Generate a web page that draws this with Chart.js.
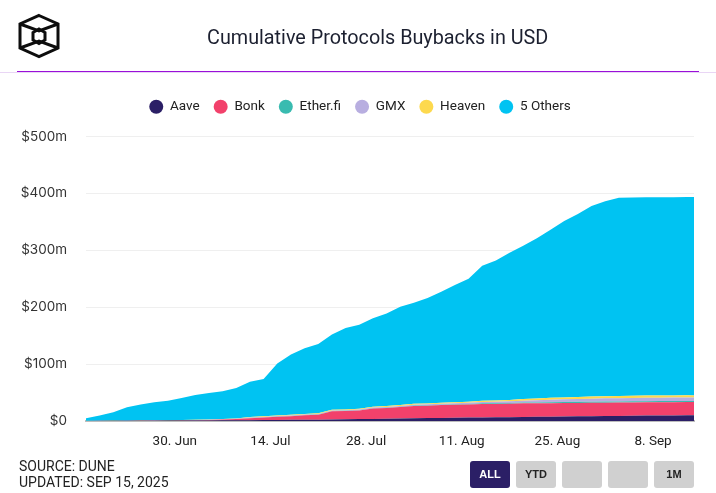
<!DOCTYPE html>
<html><head><meta charset="utf-8">
<script src="https://cdn.jsdelivr.net/npm/chart.js@4"></script>
<style>
html,body{margin:0;padding:0;background:#fff;width:716px;height:493px;overflow:hidden}
#c{position:absolute;left:0;top:0}
.t{position:absolute;left:207px;top:26px;width:341px;text-align:center;font:19.8px Roboto,sans-serif;color:#1c2030;white-space:nowrap}
.l1{position:absolute;left:17px;width:682px;top:71px;height:1px;background:#9a10d8}
.l2{position:absolute;left:0;width:716px;top:72px;height:1px;background:#e9d6f5}
.f{position:absolute;left:19px;top:458px;font:14px/16px Roboto,sans-serif;color:#222;white-space:nowrap}
.b{position:absolute;top:461px;width:40px;height:27px;border-radius:3px;background:#d0d0d0;color:#222;font:bold 11px/27px "Liberation Sans",sans-serif;text-align:center}
.a{background:#2b1f66;color:#fff}
svg{position:absolute;left:0;top:0}
</style></head><body>
<canvas id="c" width="716" height="493"></canvas>
<svg width="80" height="70" fill="none" stroke="#0d0d0d" stroke-width="3" stroke-linejoin="miter">
<path d="M39 15.5L58 24V48L39 56.5L20 48V24Z"/>
<path d="M20 24L39 31L58 24M20 48L39 41L58 48"/>
<path d="M39 29L45 32.500V40L39 43.500L33 40V32.500Z"/>
</svg>
<div class="t">Cumulative Protocols Buybacks in USD</div>
<div class="l1"></div><div class="l2"></div>
<div class="f">SOURCE: DUNE<br>UPDATED: SEP 15, 2025</div>
<div class="b a" style="left:470px">ALL</div>
<div class="b" style="left:516px">YTD</div>
<div class="b" style="left:562px"></div>
<div class="b" style="left:608px"></div>
<div class="b" style="left:654px">1M</div>
<script>
const days=[0,2,4,6,8,10,12,14,16,18,20,22,24,26,28,30,32,34,36,38,40,42,44,46,48,50,52,54,56,58,60,62,64,66,68,70,72,74,76,78,80,82,84,86,88,89];
const tickDays=[13,27,41,55,69,83];
const tickLabels=["30. Jun","14. Jul","28. Jul","11. Aug","25. Aug","8. Sep"];
const seriesNames=["Aave","Bonk","Ether.fi","GMX","Heaven","5 Others"];
const seriesColors=["#2b1f66","#f2416b","#39bbb0","#b8aee0","#fdd94e","#00c3f2"];
const aave=[0.1,0.2,0.3,0.4,0.5,0.6,0.7,0.8,0.9,1,1.1,1.2,1.4,1.6,1.8,2,2.2,2.4,2.7,3,3.3,3.6,4,4.4,4.8,5.1,5.4,5.7,6,6.3,6.5,6.8,7,7.3,7.6,7.9,8.2,8.5,8.8,9,9.3,9.5,9.7,9.8,10,10];
const bonk=[0.1,0.1,0.1,0.2,0.2,0.3,0.3,0.4,0.5,0.8,1.4,2.2,3.6,4.4,5.7,6.5,7.8,8.6,14.3,14.5,15.2,18.4,19,20.1,21.7,21.9,22.6,22.8,23,23.7,23.5,23.7,24,23.7,23.6,23.6,23.6,23.5,23.4,23.4,23.4,23.3,23.3,23.3,23.3,23.2];
const etherfi=[.05,.05,.05,.05,.1,.1,.1,.1,.1,.15,.15,.2,.3,.3,.3,.35,.35,.4,.4,.4,.45,.5,.5,.55,.6,.65,.7,.8,.9,1,1.1,1.2,1.3,1.5,1.7,1.8,1.9,1.9,2,2,2,2,2,2,2,2];
const gmx=[.1,.1,.1,.1,.15,.15,.2,.2,.2,.25,.3,.4,.8,.9,.9,1,1,1,1.1,1.1,1.2,1.3,1.3,1.4,1.5,1.6,1.7,1.9,2.1,2.4,2.7,3,3.4,3.9,4.4,4.8,5,5.3,5.6,5.8,5.9,6,6,6,6,6];
const heaven=[.15,.15,.2,.2,.25,.3,.3,.35,.4,.4,.5,.6,.9,1,1.1,1.05,1.15,1.2,1.2,1.3,1.35,1.4,1.5,1.55,1.6,1.65,1.6,1.8,2,2.1,2.2,2.3,2.8,3.1,3.4,3.4,3.6,3.8,3.9,3.9,3.8,3.8,3.8,3.8,3.8,3.8];
const others=[4.5,9,14.5,23,27.8,31.5,33.9,38.6,43.4,46.4,49,53.4,62,65.8,91.2,106.1,115.5,121.9,132.3,143.2,147.5,155.3,162.7,173,177.8,185.1,195,206,216,237.5,246,258.5,269.5,281.5,295.3,310,321.7,335,342.5,348.3,348.5,348.5,348.5,348.5,348.5,348.5];
const values=[aave,bonk,etherfi,gmx,heaven,others];
const legendSpacer={id:'legendSpacer',afterInit(chart){
  const lg=chart.legend,f=lg.fit,d=lg.draw;
  lg.fit=function(){f.call(this);this.height+=13;};
  lg.draw=function(){const c=chart.ctx;c.save();c.translate(13,0);d.call(this);c.restore();};
}};
new Chart(document.getElementById('c'),{
 type:'line',
 plugins:[legendSpacer],
 data:{datasets:seriesNames.map((n,i)=>({
   label:n,
   data:days.map((d,j)=>({x:d,y:values[i][j]})),
   backgroundColor:seriesColors[i],borderColor:seriesColors[i],
   borderWidth:0,pointRadius:0,tension:0,
   fill:i===0?'origin':'-1'
 }))},
 options:{
  responsive:false,animation:false,devicePixelRatio:1,
  layout:{padding:{top:86,right:22,left:0,bottom:0}},
  plugins:{
   tooltip:{enabled:false},
   legend:{position:'top',align:'center',onClick:null,
    labels:{usePointStyle:true,pointStyle:'circle',pointStyleWidth:14,boxHeight:10,padding:14,color:'#222',
     font:{family:'Roboto',size:13.5}}}
  },
  scales:{
   x:{type:'linear',min:0,max:89,
     afterBuildTicks(s){s.ticks=tickDays.map(v=>({value:v}));},
     afterFit(s){s.height=72;},
     grid:{display:false},
     border:{display:true,color:'#bdbdbd',width:2},
     ticks:{autoSkip:false,maxRotation:0,padding:5,color:'#222',font:{family:'Roboto',size:13.5},
       callback(v){const i=tickDays.indexOf(v);return i<0?'':tickLabels[i];}}},
   y:{stacked:true,min:0,max:500,
     afterFit(s){s.width=86;},
     grid:{color:'#efefef',drawTicks:false},
     border:{display:false},
     ticks:{stepSize:100,padding:19,color:'#333',font:{family:'Inter',size:13.5},
       callback:v=>v===0?'$0':'$'+v+'m'}}
  }
 }
});
</script>
</body></html>
